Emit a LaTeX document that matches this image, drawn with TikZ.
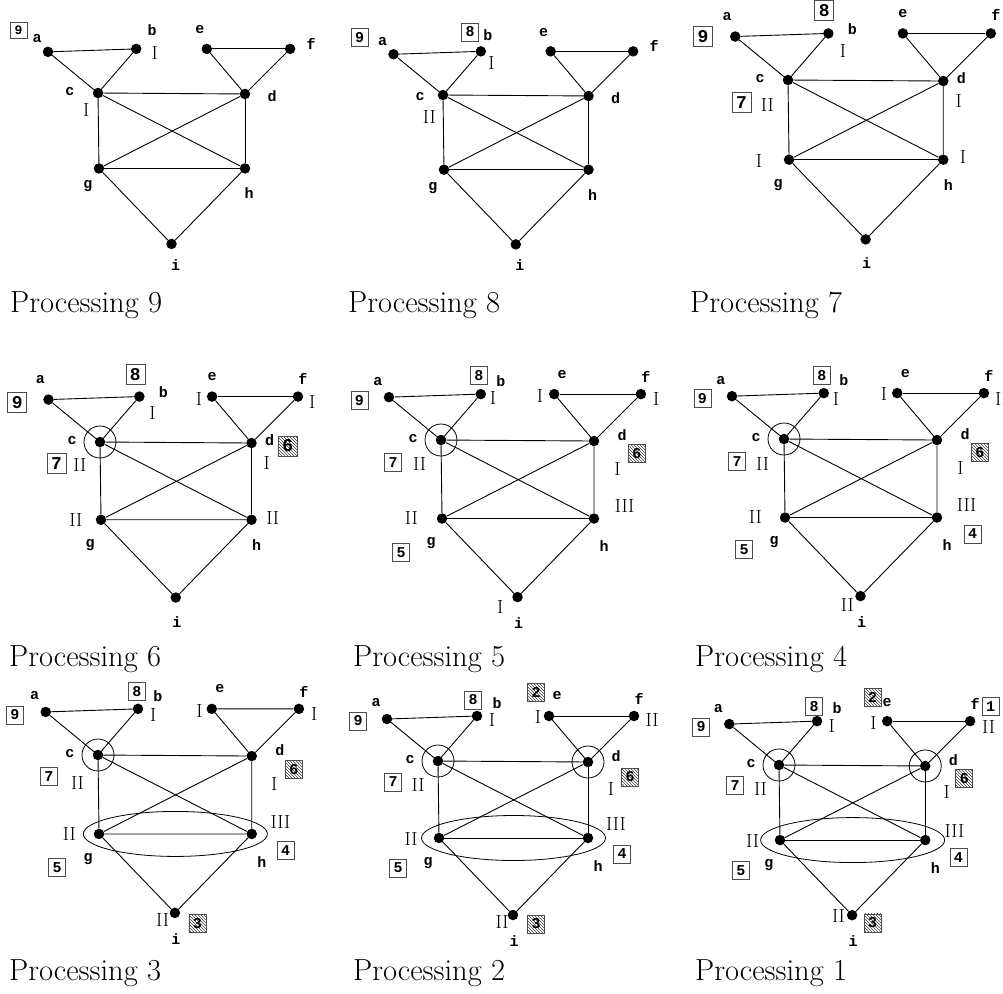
\documentclass[tikz,border=0pt]{standalone}
\usepackage{fontspec}
\setmonofont{Liberation Mono}
\usetikzlibrary{shapes.geometric,patterns}
\newcommand{\LetterFont}[1]{\fontsize{#1}{#1}\selectfont\ttfamily\bfseries}
\tikzset{
  vtx/.style={circle,fill=black,inner sep=0pt,minimum size=10.5pt},
  edge/.style={line width=0.9pt},
  lbl/.style={inner sep=0pt,font=\LetterFont{15}},
  cnt/.style={inner sep=0pt,font=\fontsize{19}{19}\selectfont},
  ordbox/.style={draw=black!70,line width=0.7pt,inner sep=0pt,minimum width=17pt,minimum height=18pt,font=\LetterFont{15}},
  hatchbox/.style={ordbox,pattern=north west lines,pattern color=black!75},
  ring/.style={circle,draw,line width=0.8pt,minimum size=32pt,inner sep=0pt},
  hull/.style={ellipse,draw,line width=0.8pt,minimum width=184pt,minimum height=45pt,inner sep=0pt},
  caption/.style={anchor=base west,inner sep=0pt,font=\fontsize{30.5}{32}\selectfont},
  % where the vertex letters sit
  lbl a/.style={shift={(-11,-16)}},lbl b/.style={shift={(20,-13)}},lbl c/.style={shift={(-28,-1)}},
  lbl d/.style={shift={(28,-6)}},lbl e/.style={shift={(8,-20)}},lbl f/.style={shift={(5,-17)}},
  lbl g/.style={shift={(-11,25)}},lbl h/.style={shift={(10,28)}},lbl i/.style={shift={(1,26)}},
  top labels/.style={lbl a/.style={shift={(-11,-13)}},lbl d/.style={shift={(27,2)}},lbl e/.style={shift={(-7,-19)}},
    lbl f/.style={shift={(21,-5)}},lbl g/.style={shift={(-11,18)}},lbl h/.style={shift={(4,25)}},lbl i/.style={shift={(4,21)}}},
  side labels/.style={lbl a/.style={shift={(-8,-20)}},lbl b/.style={shift={(24,-4)}},lbl d/.style={shift={(18,-3)}},
    lbl e/.style={shift={(0,-20)}},lbl f/.style={shift={(5,-18)}},lbl h/.style={shift={(5,25)}},lbl i/.style={shift={(1,24)}}},
  big boxes/.style={ordbox/.append style={minimum width=19pt,minimum height=20pt,font=\LetterFont{18}}}
}
\newcommand{\ElimGraph}{% vertices, edges, letters
\foreach \v/\x/\y in {a/-51/-42,b/39/-45,c/0/0,d/150/1,e/111/-45,f/196/-45,g/1/77,h/150/77,i/75/154}
  \node[vtx] (\v) at (\x,\y) {};
\foreach \p/\q in {a/b,a/c,b/c,e/f,e/d,f/d,c/d,c/g,c/h,d/g,d/h,g/h,g/i,h/i}
  \draw[edge] (\p) -- (\q);
\foreach \v in {a,b,c,d,e,f,g,h,i}
  \node[lbl,lbl \v] (l\v) at (\v) {\v};
}
\newcommand{\CountMark}[3]{\node[cnt] (#1n) at ([shift={#2}]#1) {#3};}% vertex offset text
\newcommand{\OrderBox}[3]{\node[ordbox] (#1o) at ([shift={#2}]#1) {#3};}
\newcommand{\HatchBox}[3]{\node[hatchbox] (#1o) at ([shift={#2}]#1) {#3};}
\newcommand{\RingMark}[1]{\node[ring] (#1r) at (#1) {};}

\begin{document}
\begin{tikzpicture}[x=1pt,y=-1pt]
\useasboundingbox (0,0) rectangle (1003,993);
% processing 9
\begin{scope}[name prefix=p9-,shift={(98,93)},scale=0.98,top labels,lbl b/.style={shift={(16,-19)}},
  ordbox/.append style={minimum height=16pt,font=\LetterFont{13}}]
\ElimGraph
\OrderBox{a}{(-30,-22)}{9}
\CountMark{b}{(19,4)}{I}
\CountMark{c}{(-12,17)}{I}
\end{scope}
% processing 8
\begin{scope}[name prefix=p8-,shift={(443,95)},scale=0.97,top labels,lbl b/.style={shift={(7,-16)}},lbl c/.style={shift={(-23,2)}}]
\ElimGraph
\OrderBox{a}{(-35,-17)}{9}
\OrderBox{b}{(-11,-20)}{8}
\CountMark{b}{(11,12)}{I}
\CountMark{c}{(-14,23)}{II}
\end{scope}
% processing 7
\begin{scope}[name prefix=p7-,shift={(788,80)},scale=1.035,side labels,big boxes]
\ElimGraph
\OrderBox{a}{(-31,0)}{9}
\OrderBox{b}{(-4,-22)}{8}
\CountMark{b}{(14,17)}{I}
\OrderBox{c}{(-45,22)}{7}
\CountMark{c}{(-20,24)}{II}
\CountMark{d}{(15,19)}{I}
\CountMark{g}{(-29,1)}{I}
\CountMark{h}{(19,-3)}{I}
\end{scope}
% processing 6
\begin{scope}[name prefix=p6-,shift={(100,442)},scale=1.01,side labels,big boxes]
\ElimGraph
\OrderBox{a}{(-31,3)}{9}
\OrderBox{b}{(-4,-22)}{8}
\CountMark{b}{(13,16)}{I}
\RingMark{c}
\OrderBox{c}{(-43,21)}{7}
\CountMark{c}{(-20,23)}{II}
\CountMark{e}{(-13,2)}{I}
\CountMark{f}{(14,5)}{I}
\HatchBox{d}{(36,3)}{6}
\CountMark{d}{(15,20)}{I}
\CountMark{g}{(-25,0)}{II}
\CountMark{h}{(21,-2)}{II}
\end{scope}
% processing 5
\begin{scope}[name prefix=p5-,shift={(441,440)},scale=1.02]
\ElimGraph
\OrderBox{a}{(-29,3)}{9}
\OrderBox{b}{(-2,-18)}{8}
\CountMark{b}{(12,4)}{I}
\RingMark{c}
\OrderBox{c}{(-47,22)}{7}
\CountMark{c}{(-21,24)}{II}
\CountMark{e}{(-14,2)}{I}
\CountMark{f}{(15,5)}{I}
\HatchBox{d}{(42,12)}{6}
\CountMark{d}{(23,27)}{I}
\CountMark{h}{(30,-12)}{III}
\CountMark{g}{(-30,-1)}{II}
\OrderBox{g}{(-40,33)}{5}
\CountMark{i}{(-17,10)}{I}
\end{scope}
% processing 4
\begin{scope}[name prefix=p4-,shift={(784,439)},scale=1.02]
\ElimGraph
\OrderBox{a}{(-29,2)}{9}
\OrderBox{b}{(-2,-17)}{8}
\CountMark{b}{(12,6)}{I}
\RingMark{c}
\OrderBox{c}{(-46,22)}{7}
\CountMark{c}{(-21,25)}{II}
\CountMark{e}{(-13,1)}{I}
\CountMark{f}{(14,6)}{I}
\HatchBox{d}{(42,12)}{6}
\CountMark{d}{(23,27)}{I}
\CountMark{h}{(29,-12)}{III}
\OrderBox{h}{(35,16)}{4}
\CountMark{g}{(-29,-1)}{II}
\OrderBox{g}{(-40,31)}{5}
\CountMark{i}{(-13,9)}{II}
\end{scope}
% processing 3
\begin{scope}[name prefix=p3-,shift={(98,755)},scale=1.025]
\ElimGraph
\OrderBox{a}{(-30,3)}{9}
\OrderBox{b}{(-1,-17)}{8}
\CountMark{b}{(15,6)}{I}
\RingMark{c}
\OrderBox{c}{(-48,21)}{7}
\CountMark{c}{(-20,27)}{II}
\CountMark{e}{(-12,2)}{I}
\CountMark{f}{(15,5)}{I}
\HatchBox{d}{(41,13)}{6}
\CountMark{d}{(22,27)}{I}
\node[hull] (gh) at (75.5,77) {};
\CountMark{h}{(28,-12)}{III}
\OrderBox{h}{(33,16)}{4}
\CountMark{g}{(-29,0)}{II}
\OrderBox{g}{(-41,33)}{5}
\CountMark{i}{(-12,7)}{II}
\HatchBox{i}{(22,10)}{3}
\end{scope}
% processing 2
\begin{scope}[name prefix=p2-,shift={(438,761)},scale=1.0]
\ElimGraph
\OrderBox{a}{(-29,2)}{9}
\OrderBox{b}{(-4,-16)}{8}
\CountMark{b}{(15,4)}{I}
\RingMark{c}
\OrderBox{c}{(-45,21)}{7}
\CountMark{c}{(-20,24)}{II}
\HatchBox{e}{(-13,-24)}{2}
\CountMark{e}{(-11,1)}{I}
\CountMark{f}{(18,4)}{II}
\RingMark{d}
\HatchBox{d}{(42,15)}{6}
\CountMark{d}{(23,27)}{I}
\node[hull] (gh) at (75.5,77) {};
\CountMark{h}{(28,-14)}{III}
\OrderBox{h}{(34,16)}{4}
\CountMark{g}{(-28,1)}{II}
\OrderBox{g}{(-41,30)}{5}
\CountMark{i}{(-11,7)}{II}
\HatchBox{i}{(23,9)}{3}
\end{scope}
% processing 1
\begin{scope}[name prefix=p1-,shift={(779,765)},scale=0.975,lbl e/.style={shift={(0,-19)}}]
\ElimGraph
\OrderBox{a}{(-29,3)}{9}
\OrderBox{b}{(-3,-15)}{8}
\CountMark{b}{(15,5)}{I}
\RingMark{c}
\OrderBox{c}{(-45,21)}{7}
\CountMark{c}{(-19,25)}{II}
\HatchBox{e}{(-15,-24)}{2}
\CountMark{e}{(-14,2)}{I}
\OrderBox{f}{(21,-15)}{1}
\CountMark{f}{(19,6)}{II}
\RingMark{d}
\HatchBox{d}{(40,13)}{6}
\CountMark{d}{(22,27)}{I}
\node[hull] (gh) at (75.5,77) {};
\CountMark{h}{(30,-9)}{III}
\OrderBox{h}{(34,18)}{4}
\CountMark{g}{(-28,1)}{II}
\OrderBox{g}{(-40,31)}{5}
\CountMark{i}{(-14,1)}{II}
\HatchBox{i}{(21,8)}{3}
\end{scope}
% captions
\foreach \n/\x/\y in {9/10/312,8/348/312,7/690/312,6/9/666,5/353/666,4/695/666,3/9/980,2/353/980,1/695/980}
  \node[caption] (cap\n) at (\x,\y) {Processing \n};
\end{tikzpicture}
\end{document}
